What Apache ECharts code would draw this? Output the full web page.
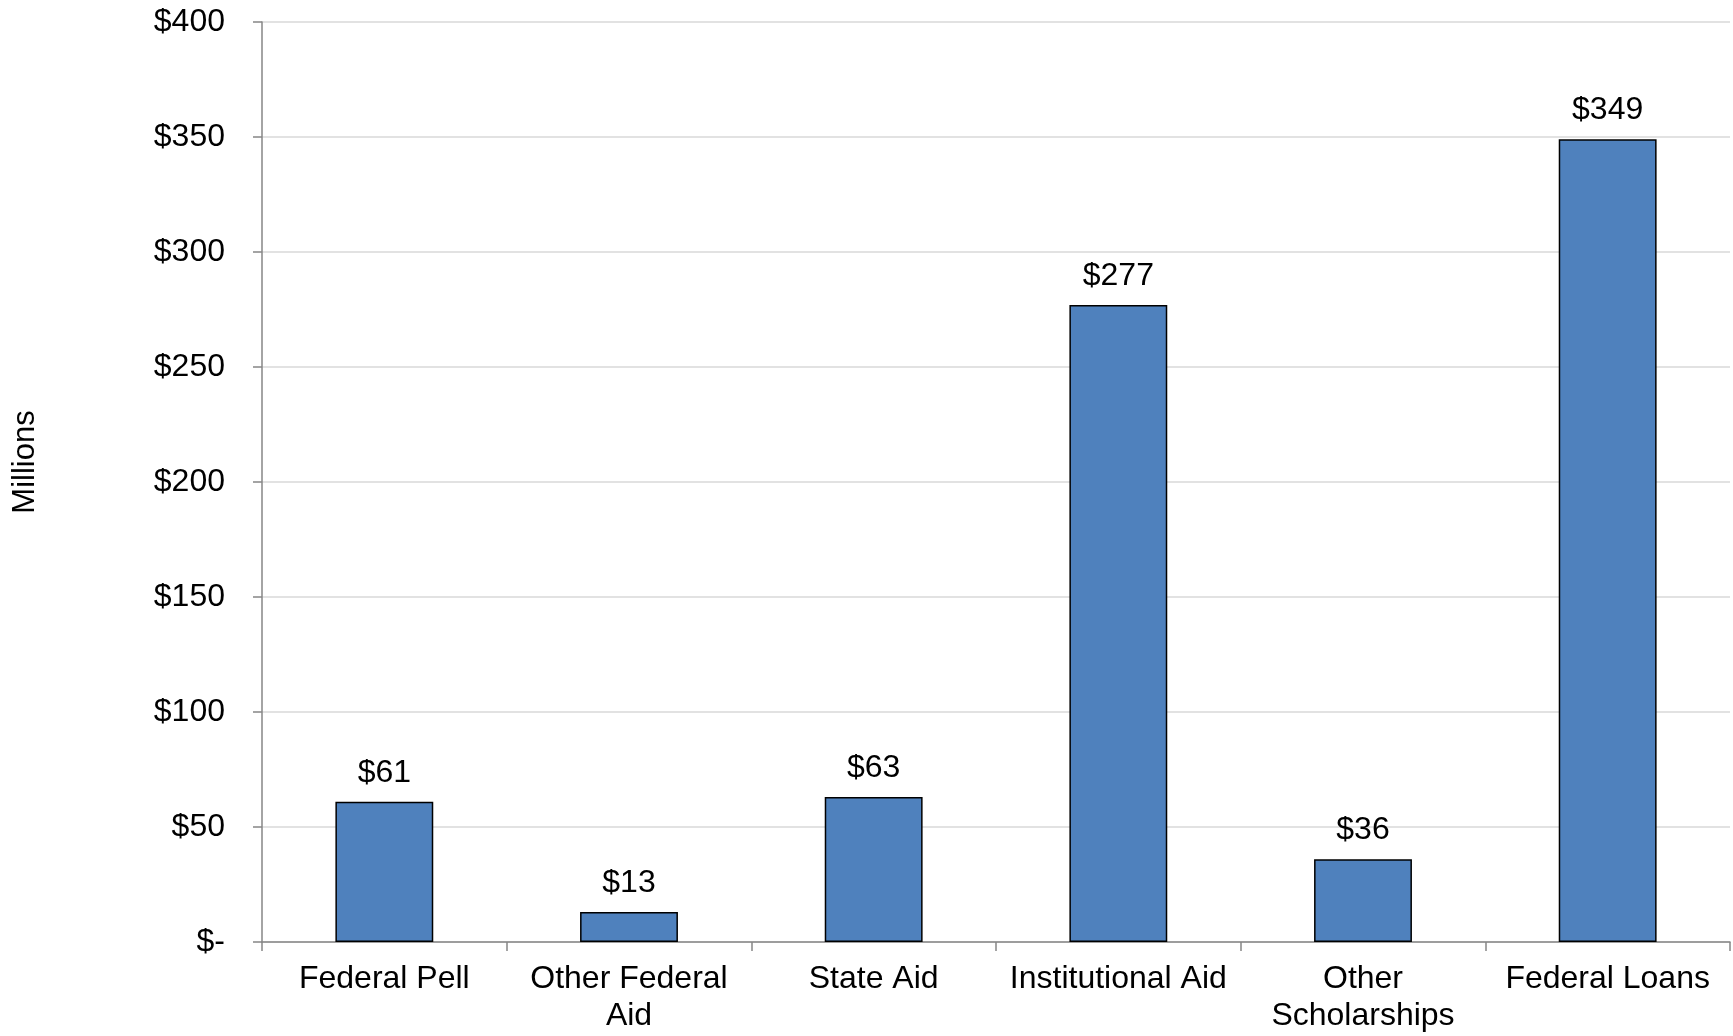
<!DOCTYPE html>
<html>
<head>
<meta charset="utf-8">
<script src="https://cdn.jsdelivr.net/npm/echarts@6/dist/echarts.min.js"></script>
<style>html,body{margin:0;padding:0;background:#fff}#c{width:1733px;height:1036px}</style>
</head>
<body>
<div id="c"></div>
<script>
const categories = ['Federal Pell', 'Other Federal\nAid', 'State Aid', 'Institutional Aid', 'Other\nScholarships', 'Federal Loans'];
const values = [61, 13, 63, 277, 36, 349];
const yTicks = { min: 0, max: 400, interval: 50 };
const yName = 'Millions';

const FONT = '"Liberation Sans", Arial, sans-serif';
const chart = echarts.init(document.getElementById('c'));
chart.setOption({
  animation: false,
  backgroundColor: '#fff',
  grid: { left: 262, right: 3, top: 22, bottom: 94, containLabel: false, outerBoundsMode: 'none' },
  xAxis: {
    type: 'category',
    data: categories,
    axisLine: { lineStyle: { color: '#868686', width: 1.5 } },
    axisTick: { show: true, length: 9, lineStyle: { color: '#868686', width: 1.5 } },
    axisLabel: { color: '#000', fontSize: 32, fontFamily: FONT, margin: 19, lineHeight: 37, interval: 0 }
  },
  yAxis: {
    type: 'value',
    min: yTicks.min, max: yTicks.max, interval: yTicks.interval,
    name: yName,
    nameLocation: 'middle',
    nameRotate: 90,
    nameGap: 221,
    nameTextStyle: { color: '#000', fontSize: 31, fontFamily: FONT, padding: [0, 0, 0, 40] },
    axisLine: { show: true, lineStyle: { color: '#868686', width: 1.5 } },
    axisTick: { show: true, length: 9, lineStyle: { color: '#868686', width: 1.5 } },
    splitLine: { lineStyle: { color: '#d9d9d9', width: 1.5 } },
    axisLabel: {
      color: '#000', fontSize: 32, fontFamily: FONT, margin: 37,
      formatter: v => v === 0 ? '$-' : '$' + v
    }
  },
  series: [{
    type: 'bar',
    data: values,
    barCategoryGap: '60%',
    itemStyle: { color: '#4F81BD', borderColor: '#000', borderWidth: 1.5 },
    label: {
      show: true, position: 'top', distance: 13,
      color: '#000', fontSize: 32, fontFamily: FONT,
      formatter: p => '$' + p.value
    }
  }]
});
</script>
</body>
</html>
